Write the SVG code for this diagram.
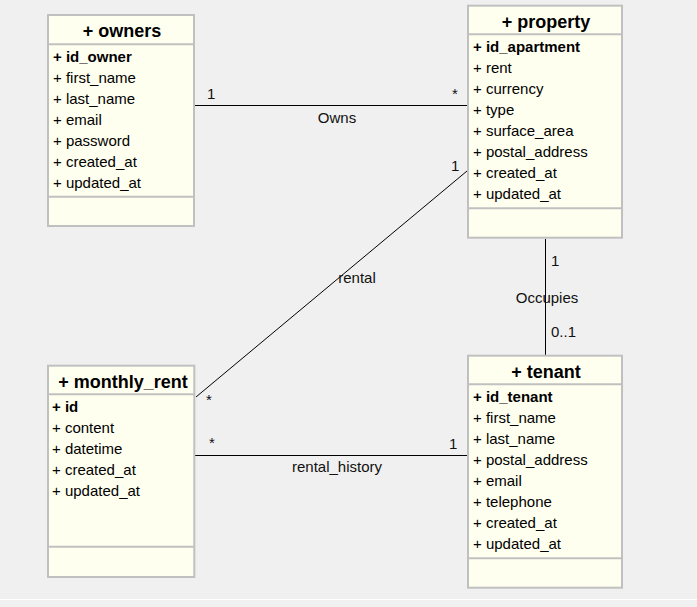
<svg xmlns="http://www.w3.org/2000/svg" width="697" height="607" viewBox="0 0 697 607">
<style>
.box{fill:#fffff0;stroke:#c0c0c0;stroke-width:2}
.sep{stroke:#c0c0c0;stroke-width:2}
.t{font-family:"Liberation Sans",Arial,sans-serif;font-size:18px;font-weight:bold;fill:#000;text-anchor:middle}
.a{font-family:"Liberation Sans",Arial,sans-serif;font-size:15px;fill:#000}
.k{font-weight:bold}
.c{stroke:#000;stroke-width:1;fill:none}
.l{font-family:"Liberation Sans",Arial,sans-serif;font-size:15px;fill:#111}
.m{text-anchor:middle}
</style>
<rect x="0" y="0" width="697" height="607" fill="#f0f0f0"/>
<line x1="0" y1="599.5" x2="697" y2="599.5" stroke="#ffffff" stroke-width="1"/>

<g id="connectors">
  <line class="c" x1="195" y1="105.5" x2="467" y2="105.5"/>
  <text class="l" x="207" y="99">1</text>
  <text class="l" x="452" y="99">*</text>
  <text class="l m" x="337" y="123">Owns</text>

  <line class="c" x1="545.5" y1="239" x2="545.5" y2="355"/>
  <text class="l" x="551" y="266">1</text>
  <text class="l m" x="547" y="303">Occupies</text>
  <text class="l" x="551" y="337">0..1</text>

  <line class="c" x1="467" y1="171" x2="196" y2="397"/>
  <text class="l" x="451" y="171">1</text>
  <text class="l m" x="357" y="283">rental</text>
  <text class="l" x="206" y="405">*</text>

  <line class="c" x1="195" y1="455.5" x2="467" y2="455.5"/>
  <text class="l" x="209" y="448">*</text>
  <text class="l" x="449" y="449">1</text>
  <text class="l m" x="337" y="472">rental_history</text>
</g>

<g id="owners">
  <rect class="box" x="48" y="15" width="146" height="211"/>
  <line class="sep" x1="48" y1="44.3" x2="194" y2="44.3"/>
  <line class="sep" x1="48" y1="196.7" x2="194" y2="196.7"/>
  <text class="t" x="122" y="37">+ owners</text>
  <text class="a k" x="53" y="62">+ id_owner</text>
  <text class="a" x="53" y="83">+ first_name</text>
  <text class="a" x="53" y="104">+ last_name</text>
  <text class="a" x="53" y="125">+ email</text>
  <text class="a" x="53" y="146">+ password</text>
  <text class="a" x="53" y="167">+ created_at</text>
  <text class="a" x="53" y="188">+ updated_at</text>
</g>

<g id="property">
  <rect class="box" x="468" y="5.7" width="154" height="232"/>
  <line class="sep" x1="468" y1="34.3" x2="622" y2="34.3"/>
  <line class="sep" x1="468" y1="208.3" x2="622" y2="208.3"/>
  <text class="t" x="546" y="27.5">+ property</text>
  <text class="a k" x="473" y="52">+ id_apartment</text>
  <text class="a" x="473" y="73">+ rent</text>
  <text class="a" x="473" y="94">+ currency</text>
  <text class="a" x="473" y="115">+ type</text>
  <text class="a" x="473" y="136">+ surface_area</text>
  <text class="a" x="473" y="157">+ postal_address</text>
  <text class="a" x="473" y="178">+ created_at</text>
  <text class="a" x="473" y="199">+ updated_at</text>
</g>

<g id="monthly_rent">
  <rect class="box" x="48" y="365.7" width="146.3" height="211.3"/>
  <line class="sep" x1="48" y1="394.3" x2="194.3" y2="394.3"/>
  <line class="sep" x1="48" y1="546.7" x2="194.3" y2="546.7"/>
  <text class="t" x="123" y="387.7">+ monthly_rent</text>
  <text class="a k" x="52" y="412">+ id</text>
  <text class="a" x="52" y="433">+ content</text>
  <text class="a" x="52" y="454">+ datetime</text>
  <text class="a" x="52" y="475">+ created_at</text>
  <text class="a" x="52" y="496">+ updated_at</text>
</g>

<g id="tenant">
  <rect class="box" x="468" y="355.7" width="154" height="232"/>
  <line class="sep" x1="468" y1="384.3" x2="622" y2="384.3"/>
  <line class="sep" x1="468" y1="558.3" x2="622" y2="558.3"/>
  <text class="t" x="546" y="377.7">+ tenant</text>
  <text class="a k" x="473" y="402">+ id_tenant</text>
  <text class="a" x="473" y="423">+ first_name</text>
  <text class="a" x="473" y="444">+ last_name</text>
  <text class="a" x="473" y="465">+ postal_address</text>
  <text class="a" x="473" y="486">+ email</text>
  <text class="a" x="473" y="507">+ telephone</text>
  <text class="a" x="473" y="528">+ created_at</text>
  <text class="a" x="473" y="549">+ updated_at</text>
</g>
</svg>
